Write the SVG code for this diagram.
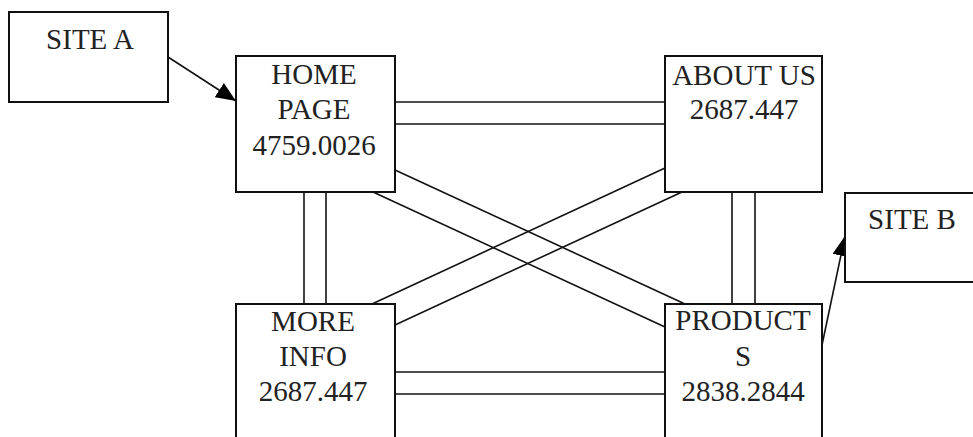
<svg xmlns="http://www.w3.org/2000/svg" width="973" height="437" viewBox="0 0 973 437">
<style>
.box{fill:#fff;stroke:#111;stroke-width:2}
.t{font-family:"Liberation Serif","Times New Roman",serif;font-size:29px;fill:#222;text-anchor:middle}
.c{stroke:#111;stroke-width:1.6;fill:none}
</style>
<defs>
<marker id="ah2" viewBox="0 0 10 10" refX="10" refY="5" markerWidth="20" markerHeight="17" markerUnits="userSpaceOnUse" orient="auto" preserveAspectRatio="none">
<path d="M0,0 L10,5 L0,10 z" fill="#000"/>
</marker>
</defs>
<rect width="973" height="437" fill="#fff"/>
<g id="connectors">
<line class="c" x1="304" y1="192" x2="304" y2="304"/>
<line class="c" x1="326" y1="192" x2="326" y2="304"/>
<line class="c" x1="732" y1="192" x2="732" y2="304"/>
<line class="c" x1="755" y1="192" x2="755" y2="304"/>
<line class="c" x1="395" y1="102" x2="665" y2="102"/>
<line class="c" x1="395" y1="124" x2="665" y2="124"/>
<line class="c" x1="395" y1="372" x2="665" y2="372"/>
<line class="c" x1="395" y1="394" x2="665" y2="394"/>
<line class="c" x1="395" y1="170" x2="685" y2="304"/>
<line class="c" x1="373" y1="192" x2="665" y2="327"/>
<line class="c" x1="372" y1="304" x2="665" y2="168"/>
<line class="c" x1="395" y1="325" x2="682" y2="192"/>
<line class="c" x1="168" y1="57" x2="236" y2="101" marker-end="url(#ah2)"/>
<line class="c" x1="822" y1="345" x2="845" y2="236" marker-end="url(#ah2)"/>
</g>
<g id="site-a">
<rect class="box" x="9" y="12" width="159" height="90"/>
<text class="t" x="90" y="49">SITE A</text>
</g>
<g id="home-page">
<rect class="box" x="236" y="56" width="159" height="136"/>
<text class="t" x="314" y="84">HOME</text>
<text class="t" x="314" y="119">PAGE</text>
<text class="t" x="314" y="155">4759.0026</text>
</g>
<g id="about-us">
<rect class="box" x="665" y="56" width="157" height="136"/>
<text class="t" x="744" y="85">ABOUT US</text>
<text class="t" x="744" y="119">2687.447</text>
</g>
<g id="site-b">
<rect class="box" x="845" y="193" width="140" height="89"/>
<text class="t" x="912" y="229">SITE B</text>
</g>
<g id="more-info">
<rect class="box" x="236" y="304" width="159" height="150"/>
<text class="t" x="313" y="331">MORE</text>
<text class="t" x="313" y="366">INFO</text>
<text class="t" x="313" y="401">2687.447</text>
</g>
<g id="products">
<rect class="box" x="665" y="304" width="157" height="150"/>
<text class="t" x="743" y="330">PRODUCT</text>
<text class="t" x="743" y="366">S</text>
<text class="t" x="743" y="401">2838.2844</text>
</g>
</svg>
